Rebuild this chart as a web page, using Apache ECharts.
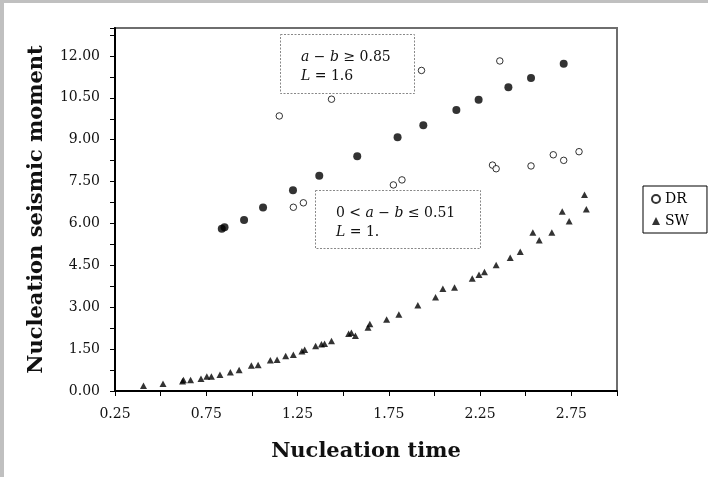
<!DOCTYPE html>
<html><head><meta charset="utf-8">
<script src="https://cdn.jsdelivr.net/npm/echarts@6/dist/echarts.min.js"></script>
<style>html,body{margin:0;padding:0;background:#fff}#c{width:708px;height:477px}</style>
</head><body><div id="c"></div><script>
// Open circles (DR)
const drX = [1.150, 1.436, 1.929, 2.358, 1.227, 1.282, 1.775, 1.822, 2.318, 2.338, 2.529, 2.651, 2.708, 2.792];
const drY = [9.85, 10.45, 11.48, 11.82, 6.58, 6.74, 7.38, 7.56, 8.09, 7.96, 8.06, 8.46, 8.26, 8.57];
// Filled circles (no legend entry)
const fX = [0.835, 0.850, 0.957, 1.061, 1.225, 1.369, 1.577, 1.798, 1.939, 2.120, 2.242, 2.405, 2.529, 2.708];
const fY = [5.81, 5.86, 6.12, 6.57, 7.19, 7.71, 8.41, 9.09, 9.52, 10.06, 10.43, 10.88, 11.21, 11.72];
// Triangles (SW)
const swX = [0.406, 0.513, 0.620, 0.625, 0.664, 0.721, 0.753, 0.778, 0.825, 0.882, 0.930, 0.997, 1.034, 1.101, 1.138, 1.185, 1.227, 1.274, 1.289, 1.349, 1.381, 1.398, 1.436, 1.530, 1.545, 1.567, 1.636, 1.646, 1.738, 1.805, 1.909, 2.006, 2.046, 2.110, 2.207, 2.244, 2.274, 2.338, 2.415, 2.470, 2.539, 2.574, 2.643, 2.700, 2.738, 2.822, 2.832];
const swY = [0.19, 0.26, 0.35, 0.39, 0.39, 0.44, 0.52, 0.52, 0.58, 0.67, 0.75, 0.91, 0.93, 1.10, 1.12, 1.25, 1.30, 1.42, 1.48, 1.61, 1.67, 1.69, 1.79, 2.05, 2.09, 1.98, 2.27, 2.40, 2.56, 2.74, 3.07, 3.36, 3.66, 3.71, 4.03, 4.16, 4.26, 4.51, 4.77, 4.99, 5.68, 5.40, 5.68, 6.43, 6.08, 7.03, 6.51];
const xTickLabels = ['0.25', '0.75', '1.25', '1.75', '2.25', '2.75'];
const yTickLabels = ['0.00', '1.50', '3.00', '4.50', '6.00', '7.50', '9.00', '10.50', '12.00'];
const legendNames = ['DR', 'SW'];

const zip = (a, b) => a.map((v, i) => [v, b[i]]);
const FONT = 'DejaVu Serif';

const chart = echarts.init(document.getElementById('c'), null, {renderer: 'canvas'});
chart.setOption({
  animation: false,
  backgroundColor: '#fff',
  grid: {left: 115, right: 91, top: 28, bottom: 86, show: true, borderColor: '#6e6e6e', borderWidth: 2, outerBoundsMode: 'none', containLabel: false},
  xAxis: {
    type: 'value', min: 0.25, max: 3.0, interval: 0.25,
    name: 'Nucleation time', nameLocation: 'middle', nameGap: 50,
    nameTextStyle: {fontFamily: FONT, fontWeight: 'bold', fontSize: 21, color: '#111'},
    axisLine: {show: true, onZero: false, lineStyle: {color: '#000', width: 2}},
    axisTick: {show: true, length: 5, lineStyle: {color: '#000', width: 1}},
    splitLine: {show: false},
    axisLabel: {
      margin: 16, fontFamily: FONT, fontSize: 14, color: '#111',
      showMinLabel: true, showMaxLabel: true, hideOverlap: false,
      formatter: v => { const s = v.toFixed(2); return xTickLabels.includes(s) ? s : ''; }
    }
  },
  yAxis: {
    type: 'value', min: 0, max: 13, interval: 0.75,
    name: 'Nucleation seismic moment', nameLocation: 'middle', nameGap: 68,
    nameTextStyle: {fontFamily: FONT, fontWeight: 'bold', fontSize: 21, color: '#111'},
    axisLine: {show: true, onZero: false, lineStyle: {color: '#000', width: 2}},
    axisTick: {show: true, length: 5, lineStyle: {color: '#000', width: 1}},
    splitLine: {show: false},
    axisLabel: {
      margin: 15, fontFamily: FONT, fontSize: 14, color: '#111',
      showMinLabel: true, showMaxLabel: true, hideOverlap: false,
      formatter: v => { const s = v.toFixed(2); return yTickLabels.includes(s) ? s : ''; }
    }
  },
  legend: {
    data: legendNames, orient: 'vertical', left: 643, top: 186,
    borderColor: '#000', borderWidth: 1, padding: [6, 18, 5, 8],
    itemGap: 8, itemWidth: 8, itemHeight: 8,
    textStyle: {fontFamily: FONT, fontSize: 14, color: '#000', lineHeight: 14}
  },
  series: [
    {name: 'DR', type: 'scatter', data: zip(drX, drY), symbol: 'circle', symbolSize: 6.5,
     itemStyle: {color: '#fff', borderColor: '#000', borderWidth: 1}, z: 3},
    {name: 'filled', type: 'scatter', data: zip(fX, fY), symbol: 'circle', symbolSize: 8,
     itemStyle: {color: '#000'}, z: 3},
    {name: 'SW', type: 'scatter', data: zip(swX, swY), symbol: 'triangle', symbolSize: [7, 6.5],
     itemStyle: {color: '#000'}, z: 3}
  ],
  graphic: [
    {type: 'rect', shape: {x: 0, y: 0, width: 708, height: 3}, style: {fill: '#c0c0c0'}, z: 100},
    {type: 'rect', shape: {x: 0, y: 0, width: 4, height: 477}, style: {fill: '#c0c0c0'}, z: 100},
    {type: 'rect', shape: {x: 280.5, y: 34.5, width: 134, height: 59},
     style: {fill: 'rgba(0,0,0,0)', stroke: '#888', lineWidth: 1, lineDash: [2, 1.5]}, z: 50},
    {type: 'text', x: 301, y: 48, z: 51,
     style: {text: '{i|a} − {i|b} ≥ 0.85\n{i|L} = 1.6', fontFamily: FONT, fontSize: 14, fill: '#111', lineHeight: 19,
       rich: {i: {fontStyle: 'italic', fontFamily: FONT, fontSize: 14, lineHeight: 19}}}},
    {type: 'rect', shape: {x: 315.5, y: 190.5, width: 165, height: 58},
     style: {fill: 'rgba(0,0,0,0)', stroke: '#888', lineWidth: 1, lineDash: [2, 1.5]}, z: 50},
    {type: 'text', x: 336, y: 203.5, z: 51,
     style: {text: '0 < {i|a} − {i|b} ≤ 0.51\n{i|L} = 1.', fontFamily: FONT, fontSize: 14, fill: '#111', lineHeight: 19,
       rich: {i: {fontStyle: 'italic', fontFamily: FONT, fontSize: 14, lineHeight: 19}}}}
  ]
});
</script></body></html>
